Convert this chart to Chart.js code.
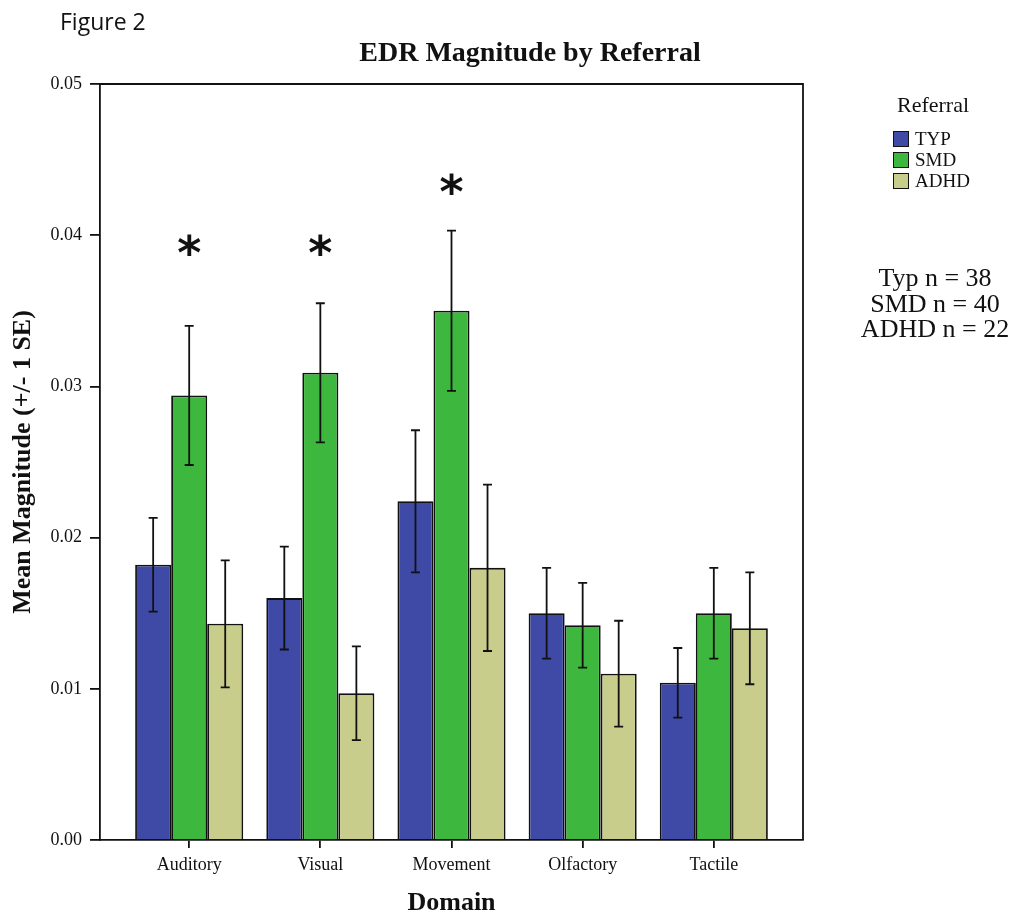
<!DOCTYPE html>
<html>
<head>
<meta charset="utf-8">
<script src="https://cdn.jsdelivr.net/npm/chart.js@4"></script>
<style>
  body { margin: 0; background: #fff; }
  #wrap { position: relative; width: 1010px; height: 910px; }
  #chart { position: absolute; left: 0; top: 0; }
  .fig { position: absolute; left: 60px; top: 5px; font: 23px "Open Sans", sans-serif; color: #111; }
  .title { position: absolute; left: 300px; width: 460px; top: 35px; line-height: 34px; text-align: center; font-family: "Liberation Serif", serif; font-weight: bold; font-size: 28px; color: #111; }
  #legend { position: absolute; left: 860px; top: 91px; width: 146px; font-family: "Liberation Serif", serif; color: #111; }
  #legend .head { text-align: center; font-size: 22px; line-height: 28px; margin-bottom: 9px; }
  #legend .item { display: flex; align-items: center; height: 21px; padding-left: 33px; font-size: 19px; }
  #legend .sw { width: 14px; height: 14px; border: 1.5px solid #111; margin-right: 6px; }
  .notes { position: absolute; left: 855px; width: 160px; top: 265px; text-align: center; font: 26px/25.5px "Liberation Serif", serif; color: #111; }
</style>
</head>
<body>
<div id="wrap">
  <canvas id="chart" width="1010" height="910"></canvas>
  <div class="fig">Figure 2</div>
  <div class="title">EDR Magnitude by Referral</div>
  <div id="legend"><div class="head">Referral</div></div>
  <div class="notes">Typ n = 38<br>SMD n = 40<br>ADHD n = 22</div>
</div>
<script>
const domains = ["Auditory", "Visual", "Movement", "Olfactory", "Tactile"];
const groups = ["TYP", "SMD", "ADHD"];
const colors = ["#3e4aa5", "#3db73e", "#c9cd8c"];

// mean magnitude per domain
const typMean = [0.0182, 0.0160, 0.0224, 0.0150, 0.0104];
const smdMean = [0.0294, 0.0309, 0.0350, 0.0142, 0.0150];
const adhdMean = [0.0143, 0.0097, 0.0180, 0.0110, 0.0140];

// +/- 1 SE
const typSE = [0.0031, 0.0034, 0.0047, 0.0030, 0.0023];
const smdSE = [0.0046, 0.0046, 0.0053, 0.0028, 0.0030];
const adhdSE = [0.0042, 0.0031, 0.0055, 0.0035, 0.0037];

// significance stars above SMD bars
const starAt = [0.0393, 0.0393, 0.0433, null, null];

const yTicks = [0, 0.01, 0.02, 0.03, 0.04, 0.05];

const means = [typMean, smdMean, adhdMean];
const ses = [typSE, smdSE, adhdSE];

const legend = document.getElementById("legend");
groups.forEach((g, i) => {
  const row = document.createElement("div");
  row.className = "item";
  row.innerHTML = '<span class="sw" style="background:' + colors[i] + '"></span>' + g;
  legend.appendChild(row);
});

const serif = "'Liberation Serif', 'Times New Roman', serif";

const extras = {
  id: "extras",
  afterDatasetsDraw(chart) {
    const ctx = chart.ctx;
    const y = chart.scales.y;
    const a = chart.chartArea;
    ctx.save();
    // error bars
    ctx.strokeStyle = "#111";
    ctx.lineWidth = 1.8;
    means.forEach((m, d) => {
      const meta = chart.getDatasetMeta(d);
      meta.data.forEach((bar, i) => {
        const top = y.getPixelForValue(m[i] + ses[d][i]);
        const bot = y.getPixelForValue(m[i] - ses[d][i]);
        ctx.beginPath();
        ctx.moveTo(bar.x, top); ctx.lineTo(bar.x, bot);
        ctx.moveTo(bar.x - 4.5, top); ctx.lineTo(bar.x + 4.5, top);
        ctx.moveTo(bar.x - 4.5, bot); ctx.lineTo(bar.x + 4.5, bot);
        ctx.stroke();
      });
    });
    // stars
    ctx.fillStyle = "#111";
    ctx.font = "bold 46px 'DejaVu Sans', sans-serif";
    ctx.textAlign = "center";
    ctx.textBaseline = "middle";
    const smdMeta = chart.getDatasetMeta(1);
    starAt.forEach((v, i) => {
      if (v == null) return;
      ctx.fillText("*", smdMeta.data[i].x, y.getPixelForValue(v) + 11);
    });
    // frame top and right
    ctx.lineWidth = 1.8;
    ctx.beginPath();
    ctx.moveTo(a.left, a.top); ctx.lineTo(a.right, a.top); ctx.lineTo(a.right, a.bottom);
    ctx.stroke();
    ctx.restore();
  }
};

new Chart(document.getElementById("chart").getContext("2d"), {
  type: "bar",
  data: {
    datasets: groups.map((g, d) => ({
      label: g,
      data: means[d].map((v, i) => ({ x: i, y: v })),
      backgroundColor: colors[d],
      borderColor: "#111",
      borderWidth: 1.8,
      categoryPercentage: 0.824,
      barPercentage: 1.0
    }))
  },
  options: {
    responsive: false,
    animation: false,
    layout: { padding: { left: 0, top: 84, right: 207, bottom: 0 } },
    plugins: { legend: { display: false }, tooltip: { enabled: false } },
    scales: {
      x: {
        type: "linear",
        min: -0.68,
        max: 4.68,
        offset: false,
        afterBuildTicks: s => { s.ticks = domains.map((c, i) => ({ value: i })); },
        afterFit: s => { s.height = 70; },
        grid: { offset: false, drawOnChartArea: false, drawTicks: true, tickLength: 8, color: "#111", lineWidth: 1.8 },
        border: { display: true, color: "#111", width: 1.8 },
        ticks: {
          callback: v => domains[v] ?? "",
          color: "#111",
          font: { family: serif, size: 18 },
          padding: 6,
          maxRotation: 0
        },
        title: {
          display: true,
          text: "Domain",
          color: "#111",
          font: { family: serif, size: 26, weight: "bold", lineHeight: 0.55 },
          padding: { top: 0, bottom: 0 }
        }
      },
      y: {
        min: 0,
        max: 0.05,
        afterBuildTicks: s => { s.ticks = yTicks.map(v => ({ value: v })); },
        afterFit: s => { s.width = 100; },
        grid: { drawOnChartArea: false, drawTicks: true, tickLength: 10, color: "#111", lineWidth: 1.8 },
        border: { display: true, color: "#111", width: 1.8 },
        ticks: {
          callback: v => v.toFixed(2),
          color: "#111",
          font: { family: serif, size: 18 },
          padding: 8
        },
        title: {
          display: true,
          text: "Mean Magnitude (+/- 1 SE)",
          color: "#111",
          font: { family: serif, size: 26, weight: "bold", lineHeight: 1.2 },
          padding: { top: 8, bottom: 0 }
        }
      }
    }
  },
  plugins: [extras]
});
</script>
</body>
</html>
